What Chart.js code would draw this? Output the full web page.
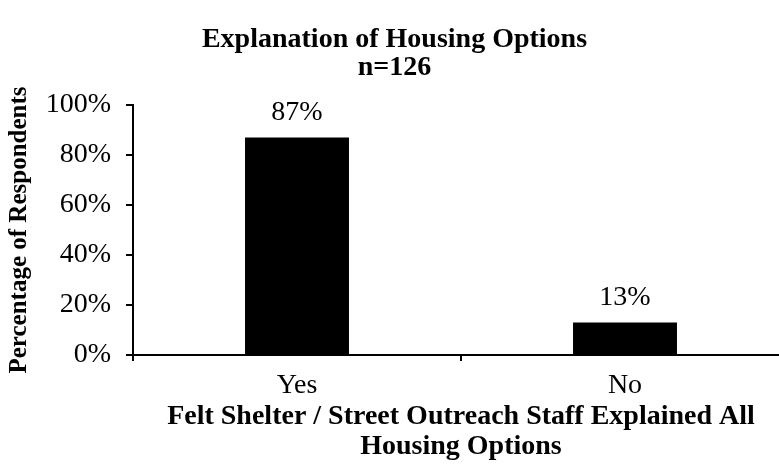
<!DOCTYPE html>
<html>
<head>
<meta charset="utf-8">
<script src="https://cdn.jsdelivr.net/npm/chart.js@4/dist/chart.umd.min.js"></script>
<style>
  html, body { margin: 0; padding: 0; background: #fff; overflow: hidden; }
  #wrap { position: relative; width: 795px; height: 474px; }
</style>
</head>
<body>
<div id="wrap"><canvas id="c"></canvas></div>
<script>
// Survey answers and their share of respondents (%)
const categories = ['Yes', 'No'];
const percentages = [87, 13];
const yTicks = [0, 20, 40, 60, 80, 100];
const titleLines = ['Explanation of Housing Options', 'n=126'];
const xTitleLines = ['Felt Shelter / Street Outreach Staff Explained All', 'Housing Options'];
const yTitle = 'Percentage of Respondents';

const SERIF = "'Liberation Serif', 'Times New Roman', serif";

// Writes each bar's value above it
const valueLabels = {
  id: 'valueLabels',
  afterDatasetsDraw(chart) {
    const ctx = chart.ctx;
    const meta = chart.getDatasetMeta(0);
    ctx.save();
    ctx.font = '28px ' + SERIF;
    ctx.fillStyle = '#000';
    ctx.textAlign = 'center';
    ctx.textBaseline = 'alphabetic';
    meta.data.forEach((bar, i) => {
      ctx.fillText(percentages[i] + '%', bar.x, bar.y - 18);
    });
    ctx.restore();
  }
};

new Chart(document.getElementById('c'), {
  type: 'bar',
  data: {
    labels: categories,
    datasets: [{
      data: percentages,
      backgroundColor: '#000',
      borderWidth: 0,
      categoryPercentage: 1,
      barPercentage: 0.317
    }]
  },
  options: {
    responsive: true,
    maintainAspectRatio: false,
    animation: false,
    layout: { padding: { left: 0, right: 6, top: 0, bottom: 0 } },
    plugins: {
      legend: { display: false },
      tooltip: { enabled: false },
      title: {
        display: true,
        text: titleLines,
        color: '#000',
        font: { family: SERIF, size: 28, weight: 'bold', lineHeight: 1.0 },
        padding: { top: 26, bottom: 23 }
      }
    },
    scales: {
      x: {
        afterFit(scale) { scale.height = 119; },
        grid: {
          offset: true,
          drawOnChartArea: false,
          drawTicks: true,
          tickLength: 6,
          color: '#000',
          lineWidth: 2
        },
        border: { display: true, color: '#000', width: 2 },
        ticks: {
          color: '#000',
          padding: 8,
          font: { family: SERIF, size: 28 }
        },
        title: {
          display: true,
          text: xTitleLines,
          color: '#000',
          font: { family: SERIF, size: 28, weight: 'bold', lineHeight: 1.07 },
          padding: { top: 0, bottom: 12 }
        }
      },
      y: {
        min: 0,
        max: 100,
        afterFit(scale) { scale.width = 133; },
        afterBuildTicks(scale) { scale.ticks = yTicks.map(v => ({ value: v })); },
        grid: {
          drawOnChartArea: false,
          drawTicks: true,
          tickLength: 7,
          color: '#000',
          lineWidth: 2
        },
        border: { display: true, color: '#000', width: 2 },
        ticks: {
          color: '#000',
          padding: 15,
          font: { family: SERIF, size: 28 },
          callback: v => v + '%'
        },
        title: {
          display: true,
          text: yTitle,
          color: '#000',
          font: { family: SERIF, size: 25, weight: 'bold', lineHeight: 1.2 },
          padding: { top: 5, bottom: 0 }
        }
      }
    }
  },
  plugins: [valueLabels]
});
</script>
</body>
</html>
